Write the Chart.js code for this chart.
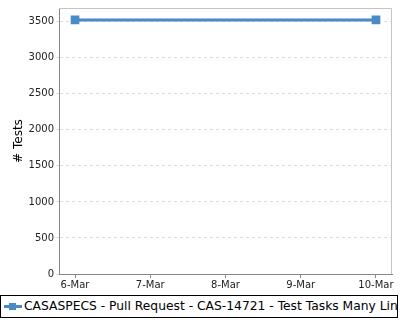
<!DOCTYPE html>
<html>
<head>
<meta charset="utf-8">
<script src="https://cdn.jsdelivr.net/npm/chart.js@4.4.0/dist/chart.umd.min.js"></script>
<style>
  body { margin: 0; background: #fff; font-family: "DejaVu Sans", sans-serif; }
  #wrap { position: relative; width: 400px; height: 320px; }
  #box { position: absolute; left: 0; top: 0; width: 400px; height: 294px; }
  #legend {
    position: absolute; left: 0; top: 295px; width: 396px; height: 21px;
    border: 1px solid #000; overflow: hidden; white-space: nowrap;
    font-size: 12.3px; line-height: 21px; color: #000;
  }
  #legend .mk { display: inline-block; position: relative; width: 18px; height: 21px; vertical-align: top; margin-left: 3px; margin-right: 2px; }
  #legend .mk i { position: absolute; left: 0; top: 9px; width: 18px; height: 3px; background: #4a8bc6; }
  #legend .mk b { position: absolute; left: 5px; top: 7px; width: 7px; height: 7px; background: #4a8bc6; }
</style>
</head>
<body>
<div id="wrap">
  <div id="box"><canvas id="chart"></canvas></div>
  <div id="legend"><span class="mk"><i></i><b></b></span><span id="legendText"></span></div>
</div>
<script>
// dữ liệu
const days = ['6-Mar', '7-Mar', '8-Mar', '9-Mar', '10-Mar'];
const pointDays = ['6-Mar', '10-Mar'];
const tests = [3525, 3525];
const yTicks = [0, 500, 1000, 1500, 2000, 2500, 3000, 3500];
const seriesName = 'CASASPECS - Pull Request - CAS-14721 - Test Tasks Many Lines';
const lineColor = '#4a8bc6';

document.getElementById('legendText').textContent = seriesName;

// viền trên và phải của vùng vẽ
const plotBorder = {
  id: 'plotBorder',
  afterDraw(chart) {
    const a = chart.chartArea, ctx = chart.ctx;
    ctx.save();
    ctx.strokeStyle = '#c4c4c4';
    ctx.lineWidth = 1;
    ctx.beginPath();
    ctx.moveTo(a.left, a.top + 0.5);
    ctx.lineTo(a.right - 0.5, a.top + 0.5);
    ctx.lineTo(a.right - 0.5, a.bottom);
    ctx.stroke();
    ctx.restore();
  }
};

const ctx = document.getElementById('chart').getContext('2d');
const chart = new Chart(ctx, {
  type: 'line',
  data: {
    datasets: [{
      label: seriesName,
      data: tests.map((v, i) => ({ x: days.indexOf(pointDays[i]), y: v })),
      borderColor: lineColor,
      backgroundColor: lineColor,
      borderWidth: 3,
      pointStyle: 'rect',
      pointRadius: 4,
      pointHoverRadius: 4,
      tension: 0
    }]
  },
  options: {
    responsive: true,
    maintainAspectRatio: false,
    animation: false,
    layout: { padding: { top: 6, right: 8, left: 0, bottom: 0 } },
    plugins: { legend: { display: false }, tooltip: { enabled: false } },
    scales: {
      x: {
        type: 'linear',
        min: -0.213,
        max: 4.213,
        afterBuildTicks: s => { s.ticks = days.map((d, i) => ({ value: i })); },
        afterFit: s => { s.height = 20; },
        ticks: {
          callback: v => days[v],
          color: '#222',
          font: { family: 'DejaVu Sans', size: 10 },
          padding: 1,
          maxRotation: 0
        },
        grid: { drawOnChartArea: false, drawTicks: true, tickLength: 4, color: '#888' },
        border: { color: '#888', width: 1 }
      },
      y: {
        min: 0,
        max: 3690,
        afterBuildTicks: s => { s.ticks = yTicks.map(v => ({ value: v })); },
        afterFit: s => { s.width = 59; },
        ticks: {
          callback: v => String(v),
          color: '#222',
          font: { family: 'DejaVu Sans', size: 10 },
          padding: 2
        },
        title: {
          display: true,
          text: '# Tests',
          color: '#000',
          font: { family: 'DejaVu Sans', size: 12 },
          padding: { top: 12, bottom: 4 }
        },
        grid: { color: '#dcdcdc', tickLength: 3 },
        border: { color: '#888', width: 1, dash: [3, 3] }
      }
    }
  },
  plugins: [plotBorder]
});
</script>
</body>
</html>
